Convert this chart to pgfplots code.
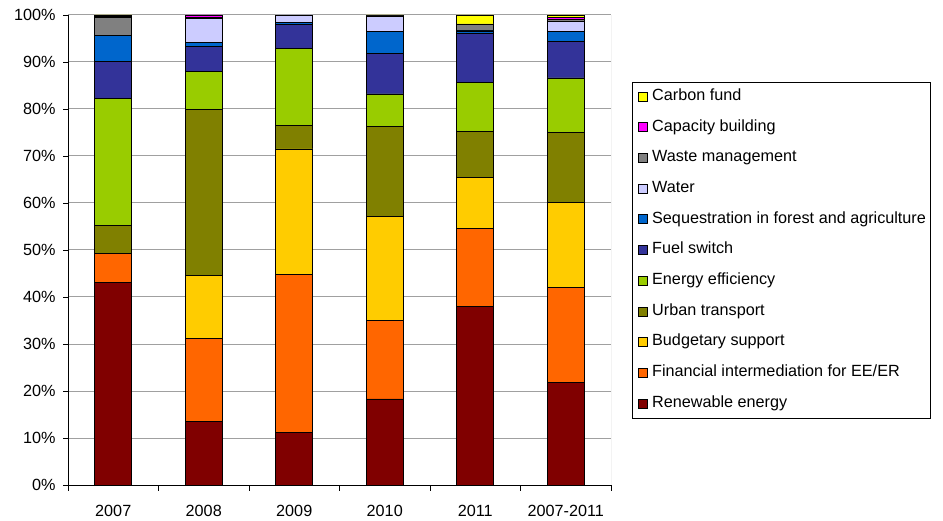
\documentclass[border=0pt]{standalone}
\usepackage{pgfplots}
\usepackage{pgfplotstable}
\pgfplotsset{compat=1.18}
\usepackage{fontspec}
\setmainfont{Liberation Sans}

\definecolor{cRE}{HTML}{800000}
\definecolor{cFIN}{HTML}{FF6600}
\definecolor{cBUD}{HTML}{FFCC00}
\definecolor{cURB}{HTML}{808000}
\definecolor{cEE}{HTML}{99CC00}
\definecolor{cFUEL}{HTML}{333399}
\definecolor{cSEQ}{HTML}{0066CC}
\definecolor{cWAT}{HTML}{CCCCFF}
\definecolor{cWASTE}{HTML}{808080}
\definecolor{cCAP}{HTML}{FF00FF}
\definecolor{cCARB}{HTML}{FFFF00}
\definecolor{gridgray}{HTML}{A0A0A0}

% Shares of climate finance by sector (percent of each year's total)
\pgfplotstableread{
x RE FIN BUD URB EE FUEL SEQ WAT WASTE CAP CARB
0 43.1 6.2 0 5.9 27.1 7.8 5.6 0 3.8 0.2 0.3
1 13.6 17.5 13.4 35.4 8.1 5.3 0.8 5.2 0.1 0.6 0
2 11.1 33.7 26.7 5.0 16.3 5.2 0.4 1.6 0 0 0
3 18.3 16.8 22.0 19.1 7.0 8.6 4.7 3.1 0.2 0.1 0.1
4 37.9 16.7 10.8 9.8 10.4 10.5 0.5 0.2 1.3 0 1.9
5 21.9 20.1 18.1 14.9 11.6 7.7 2.2 2.2 0.4 0.3 0.6
}\shares

\newcommand{\chartfont}{\fontsize{16.2bp}{19bp}\selectfont}

\begin{document}
\begin{tikzpicture}
\useasboundingbox (0,0) rectangle (943bp,521bp);
\begin{axis}[
  at={(68bp,36bp)}, anchor=south west,
  scale only axis, width=543bp, height=470bp,
  ybar stacked, bar width=37bp,
  xmin=-0.5, xmax=5.5, ymin=0, ymax=100,
  axis lines=left, axis line style={-, black, line width=0.8pt},
  xtick={0,...,5},
  xticklabels={2007,2008,2009,2010,2011,2007-2011},
  major x tick style={draw=none},
  minor xtick={-0.5,0.5,1.5,2.5,3.5,4.5,5.5},
  minor x tick style={black, line width=0.8pt},
  minor tick length=6bp,
  ytick={0,10,...,100},
  yticklabel={\pgfmathprintnumber{\tick}\%},
  major tick length=5bp,
  y tick style={black, line width=0.8pt},
  tick align=outside,
  ymajorgrids, grid style={gridgray, line width=1pt},
  /pgf/number format/assume math mode=true,
  ticklabel style={font=\chartfont},
  xticklabel style={yshift=-12bp},
  yticklabel style={xshift=-4bp},
  every axis plot/.append style={draw=black, line width=0.8pt},
  reverse legend,
  legend cell align=left,
  legend image code/.code={%
    \draw[#1, draw=black, line width=0.5pt] (0bp,-4.5bp) rectangle (9bp,4.5bp);},
  legend style={at={(1.0497,0.856)}, anchor=north west,
    draw=none, fill=none,
    font=\chartfont,
    row sep=11.7bp, column sep=4bp, inner xsep=0bp, inner ysep=4bp,
    nodes={inner ysep=2bp, inner xsep=0.5bp, text height=11.5bp, text depth=3.5bp}},
]
\addplot[fill=cRE] table[x=x, y=RE] {\shares};
\addplot[fill=cFIN] table[x=x, y=FIN] {\shares};
\addplot[fill=cBUD] table[x=x, y=BUD] {\shares};
\addplot[fill=cURB] table[x=x, y=URB] {\shares};
\addplot[fill=cEE] table[x=x, y=EE] {\shares};
\addplot[fill=cFUEL] table[x=x, y=FUEL] {\shares};
\addplot[fill=cSEQ] table[x=x, y=SEQ] {\shares};
\addplot[fill=cWAT] table[x=x, y=WAT] {\shares};
\addplot[fill=cWASTE] table[x=x, y=WASTE] {\shares};
\addplot[fill=cCAP] table[x=x, y=CAP] {\shares};
\addplot[fill=cCARB] table[x=x, y=CARB] {\shares};
\legend{Renewable energy, Financial intermediation for EE/ER, Budgetary support, Urban transport, Energy efficiency, Fuel switch, Sequestration in forest and agriculture, Water, Waste management, Capacity building, Carbon fund}
% right border of the plot area
\draw[gridgray, line width=1pt] (rel axis cs:1,0) -- (rel axis cs:1,1);
\end{axis}
% frame around the legend
\draw[black, line width=0.8pt] (632.7bp,103bp) rectangle (930.7bp,438.3bp);
\end{tikzpicture}
\end{document}
